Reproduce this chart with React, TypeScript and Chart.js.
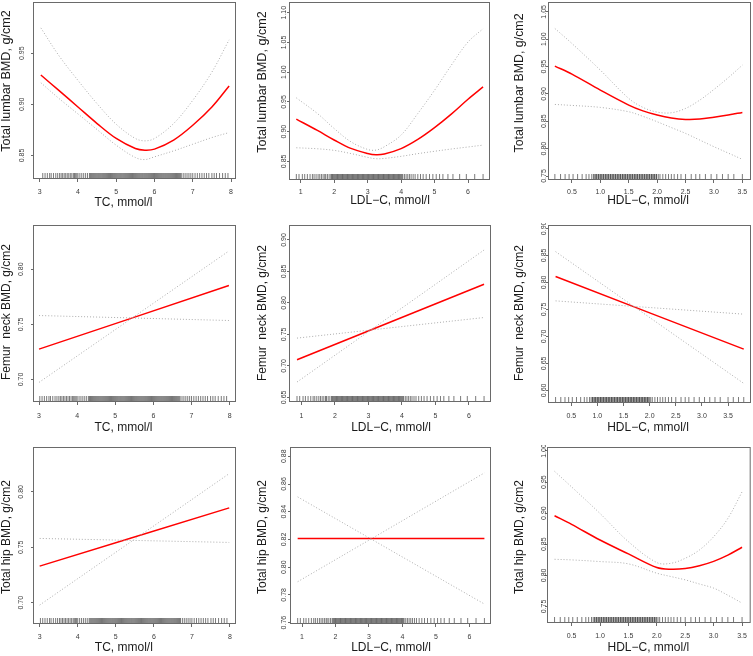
import React, { useEffect, useRef } from "react";
import { Chart, registerables } from "chart.js";
Chart.register(...registerables);

// ---------- axis ticks ----------
const TC_TICKS = [3, 4, 5, 6, 7, 8];
const LDL_TICKS = [1, 2, 3, 4, 5, 6];
const HDL_TICKS = [0.5, 1.0, 1.5, 2.0, 2.5, 3.0, 3.5];

const Y_TICKS_LUMBAR_TC = [0.85, 0.9, 0.95];
const Y_TICKS_LUMBAR_LDL = [0.85, 0.9, 0.95, 1.0, 1.05, 1.1];
const Y_TICKS_LUMBAR_HDL = [0.75, 0.8, 0.85, 0.9, 0.95, 1.0, 1.05];
const Y_TICKS_NECK_TC = [0.7, 0.75, 0.8];
const Y_TICKS_NECK_LDL = [0.65, 0.7, 0.75, 0.8, 0.85, 0.9];
const Y_TICKS_NECK_HDL = [0.6, 0.65, 0.7, 0.75, 0.8, 0.85, 0.9];
const Y_TICKS_HIP_TC = [0.7, 0.75, 0.8];
const Y_TICKS_HIP_LDL = [0.76, 0.78, 0.8, 0.82, 0.84, 0.86, 0.88];
const Y_TICKS_HIP_HDL = [0.75, 0.8, 0.85, 0.9, 0.95, 1.0];

// ---------- rug (observed exposure values) ----------
const TC_RUG = [3.02, 3.08, 3.14, 3.2, 3.26, 3.3, 3.36, 3.42, 3.47, 3.52, 3.56, 3.6, 3.64, 3.68, 3.72, 3.76, 3.8, 3.84, 3.88, 3.91, 3.94, 3.97,
  4.0, 4.05, 4.1, 4.15, 4.2, 4.25, 4.3, 4.35, 4.4, 4.45, 4.5, 4.55, 4.6, 4.65, 4.7, 4.75, 4.8, 4.85, 4.9, 4.95, 5.0, 5.05, 5.1, 5.15, 5.2, 5.25, 5.3, 5.35, 5.4, 5.45,
  5.5, 5.55, 5.6, 5.65, 5.7, 5.75, 5.8, 5.85, 5.9, 5.95, 6.0, 6.05, 6.1, 6.15, 6.2, 6.25, 6.3, 6.35, 6.4, 6.45, 6.5, 6.55, 6.6, 6.65, 6.7, 6.75, 6.8, 6.85, 6.9,
  6.95, 7.0, 7.06, 7.12, 7.18, 7.24, 7.3, 7.36, 7.42, 7.5, 7.56, 7.62, 7.7, 7.78, 7.85, 7.92];
const TC_RUG_DENSE = [4.325, 4.375, 4.425, 4.475, 4.525, 4.575, 4.625, 4.675, 4.725, 4.775, 4.825, 4.875, 4.925, 4.975, 5.025, 5.075, 5.125, 5.175,
  5.225, 5.275, 5.325, 5.375, 5.425, 5.475, 5.525, 5.575, 5.625, 5.675, 5.725, 5.775, 5.825, 5.875, 5.925, 5.975, 6.025, 6.075, 6.125, 6.175,
  6.225, 6.275, 6.325, 6.375, 6.425, 6.475, 6.525, 6.575, 6.625, 6.675];
const LDL_RUG = [0.87, 0.95, 1.05, 1.12, 1.2, 1.28, 1.35, 1.4, 1.46, 1.52, 1.57, 1.62, 1.67, 1.72,
  1.75, 1.8, 1.85, 1.9, 1.95, 2.0, 2.05, 2.1, 2.15, 2.2, 2.25, 2.3, 2.35, 2.4, 2.45, 2.5, 2.55, 2.6, 2.65, 2.7, 2.75, 2.8, 2.85, 2.9, 2.95, 3.0,
  3.05, 3.1, 3.15, 3.2, 3.25, 3.3, 3.35, 3.4, 3.45, 3.5, 3.55, 3.6, 3.65, 3.7, 3.75, 3.8, 3.85, 3.9, 3.95, 4.0, 4.05, 4.1,
  4.15, 4.2, 4.25, 4.3, 4.36, 4.42, 4.5, 4.58, 4.66, 4.75, 4.85, 4.95, 5.05, 5.15, 5.25, 5.4, 5.55, 5.75, 5.95, 6.2, 6.45];
const LDL_RUG_DENSE = [1.925, 1.975, 2.025, 2.075, 2.125, 2.175, 2.225, 2.275, 2.325, 2.375, 2.425, 2.475, 2.525, 2.575, 2.625, 2.675, 2.725,
  2.775, 2.825, 2.875, 2.925, 2.975, 3.025, 3.075, 3.125, 3.175, 3.225, 3.275, 3.325, 3.375, 3.425, 3.475, 3.525, 3.575, 3.625, 3.675, 3.725,
  3.775, 3.825, 3.875, 3.925, 3.975, 4.025];
const HDL_RUG = [0.2, 0.3, 0.38, 0.45, 0.52, 0.6, 0.68, 0.75, 0.8, 0.85,
  0.88, 0.91, 0.94, 0.97, 1.0, 1.03, 1.06, 1.09, 1.12, 1.15, 1.18, 1.21, 1.24, 1.27, 1.3, 1.33, 1.36, 1.39, 1.42, 1.45, 1.48, 1.51, 1.54, 1.57, 1.6,
  1.63, 1.66, 1.69, 1.72, 1.75, 1.78, 1.81, 1.84, 1.87, 1.9, 1.93, 1.96, 1.99, 2.02, 2.05,
  2.1, 2.15, 2.2, 2.25, 2.3, 2.36, 2.42, 2.5, 2.6, 2.68, 2.75, 2.85, 2.95, 3.05, 3.15, 3.25, 3.35, 3.5, 3.6, 3.7, 3.8];
const HDL_RUG_DENSE = [0.905, 0.935, 0.965, 0.995, 1.025, 1.055, 1.085, 1.115, 1.145, 1.175, 1.205, 1.235, 1.265, 1.295, 1.325, 1.355, 1.385,
  1.415, 1.445, 1.475, 1.505, 1.535, 1.565, 1.595, 1.625, 1.655, 1.685, 1.715, 1.745, 1.775, 1.805, 1.835, 1.865, 1.895, 1.925, 1.955, 1.985];

// ---------- row 1: total lumbar BMD ----------
const LUMBAR_TC_X = [3.03, 3.5, 4.0, 4.5, 5.0, 5.5, 5.75, 6.0, 6.5, 7.0, 7.5, 7.95];
const LUMBAR_TC_FIT = [0.9286, 0.9136, 0.8974, 0.8812, 0.8666, 0.8568, 0.8552, 0.8562, 0.865, 0.8795, 0.8974, 0.9179];
const LUMBAR_TC_UPPER = [0.9747, 0.9477, 0.9234, 0.9006, 0.8805, 0.8666, 0.8643, 0.8666, 0.8812, 0.9039, 0.9315, 0.963];
const LUMBAR_TC_LOWER = [0.9211, 0.9058, 0.8906, 0.8753, 0.86, 0.848, 0.846, 0.8487, 0.8545, 0.861, 0.8675, 0.8724];

const LUMBAR_LDL_X = [0.87, 1.5, 2.0, 2.5, 3.0, 3.25, 3.5, 4.0, 4.5, 5.0, 5.5, 6.0, 6.45];
const LUMBAR_LDL_FIT = [0.921, 0.902, 0.886, 0.8718, 0.8634, 0.8612, 0.8625, 0.8715, 0.887, 0.9068, 0.9295, 0.9545, 0.9752];
const LUMBAR_LDL_UPPER = [0.9568, 0.9305, 0.9053, 0.883, 0.8701, 0.869, 0.8746, 0.8942, 0.9305, 0.9696, 1.0116, 1.0507, 1.073];
const LUMBAR_LDL_LOWER = [0.8729, 0.8712, 0.8685, 0.8632, 0.8568, 0.8545, 0.855, 0.8585, 0.863, 0.867, 0.8708, 0.8742, 0.8774];

const LUMBAR_HDL_X = [0.2, 0.5, 1.0, 1.5, 1.75, 2.0, 2.25, 2.5, 2.75, 3.0, 3.25, 3.5];
const LUMBAR_HDL_FIT = [0.9508, 0.9362, 0.907, 0.8796, 0.869, 0.8614, 0.856, 0.8534, 0.854, 0.8575, 0.8615, 0.8662];
const LUMBAR_HDL_UPPER = [1.0196, 0.9922, 0.9435, 0.8918, 0.8754, 0.8668, 0.8656, 0.8735, 0.8887, 0.9082, 0.9295, 0.9526];
const LUMBAR_HDL_LOWER = [0.8808, 0.879, 0.8754, 0.8674, 0.859, 0.8492, 0.8385, 0.8279, 0.8157, 0.8035, 0.792, 0.7804];

// ---------- row 2: femur neck BMD (linear fits, two crossing limit lines) ----------
const NECK_TC_X = [3.0, 7.98];
const NECK_TC_FIT = [0.7275, 0.7852];
const NECK_TC_CI_STEEP = [0.6973, 0.8166];
const NECK_TC_CI_FLAT = [0.758, 0.7535];

const NECK_LDL_X = [0.87, 6.45];
const NECK_LDL_FIT = [0.7097, 0.8297];
const NECK_LDL_CI_STEEP = [0.6743, 0.8841];
const NECK_LDL_CI_FLAT = [0.7441, 0.7768];

const NECK_HDL_X = [0.2, 3.8];
const NECK_HDL_FIT = [0.8107, 0.6764];
const NECK_HDL_CI_STEEP = [0.8569, 0.6129];
const NECK_HDL_CI_FLAT = [0.7657, 0.7411];

// ---------- row 3: total hip BMD ----------
const HIP_TC_X = [3.0, 7.98];
const HIP_TC_FIT = [0.733, 0.7856];
const HIP_TC_CI_STEEP = [0.6979, 0.8165];
const HIP_TC_CI_FLAT = [0.758, 0.7544];

const HIP_LDL_X = [0.87, 6.45];
const HIP_LDL_FIT = [0.8207, 0.8207];
const HIP_LDL_CI_DOWN = [0.8507, 0.7734];
const HIP_LDL_CI_UP = [0.7895, 0.868];

const HIP_HDL_X = [0.2, 0.5, 1.0, 1.5, 2.0, 2.25, 2.5, 2.75, 3.0, 3.25, 3.5];
const HIP_HDL_FIT = [0.8958, 0.8819, 0.8568, 0.8344, 0.8125, 0.8098, 0.811, 0.8155, 0.8225, 0.8325, 0.8451];
const HIP_HDL_UPPER = [0.9673, 0.9422, 0.8995, 0.8541, 0.8205, 0.8194, 0.8274, 0.8408, 0.8621, 0.8915, 0.9342];
const HIP_HDL_LOWER = [0.8258, 0.8248, 0.8221, 0.8184, 0.8034, 0.798, 0.7927, 0.786, 0.7794, 0.768, 0.7553];

// ---------- titles ----------
const X_TITLES = ["TC, mmol/l", "LDL\u2212C, mmol/l", "HDL\u2212C, mmol/l"];
const Y_TITLES = ["Total lumbar BMD, g/cm2", "Femur  neck BMD, g/cm2", "Total hip BMD, g/cm2"];

const FONT = '"Liberation Sans", Arial, Helvetica, sans-serif';

const RUG_TC = [...TC_RUG, ...TC_RUG_DENSE];
const RUG_LDL = [...LDL_RUG, ...LDL_RUG_DENSE];
const RUG_HDL = [...HDL_RUG, ...HDL_RUG_DENSE];

type PanelCfg = {
  col: number;
  box: { l: number; r: number; t: number; b: number };
  xr: [number, number];
  yr: [number, number];
  xTicks: number[];
  xDec: number;
  yTicks: number[];
  x: number[];
  fit: number[];
  upper: number[];
  lower: number[];
  rug: number[];
  xTitle: string;
  yTitle: string;
  yLabelX: number;
  yTitleX: number;
  yTitleY: number;
  yTitleSize: number;
  xTitleX: number;
  xTitleY: number;
  tickPad: number;
};

const PANELS: PanelCfg[] = [
  { col: 0, box: { l: 33, r: 236, t: 2, b: 179 }, xr: [2.825, 8.13], yr: [0.827, 1.0], xTicks: TC_TICKS, xDec: 0, yTicks: Y_TICKS_LUMBAR_TC,
    x: LUMBAR_TC_X, fit: LUMBAR_TC_FIT, upper: LUMBAR_TC_UPPER, lower: LUMBAR_TC_LOWER, rug: RUG_TC, xTitle: X_TITLES[0], yTitle: Y_TITLES[0],
    yLabelX: 22, yTitleX: 7, yTitleY: 81, yTitleSize: 12.6, xTitleX: 123.5, xTitleY: 203, tickPad: 6 },
  { col: 251, box: { l: 289, r: 490, t: 2, b: 180 }, xr: [0.651, 6.657], yr: [0.8187, 1.118], xTicks: LDL_TICKS, xDec: 0, yTicks: Y_TICKS_LUMBAR_LDL,
    x: LUMBAR_LDL_X, fit: LUMBAR_LDL_FIT, upper: LUMBAR_LDL_UPPER, lower: LUMBAR_LDL_LOWER, rug: RUG_LDL, xTitle: X_TITLES[1], yTitle: Y_TITLES[0],
    yLabelX: 284.3, yTitleX: 262.7, yTitleY: 82, yTitleSize: 12.6, xTitleX: 390, xTitleY: 201, tickPad: 5 },
  { col: 502, box: { l: 548, r: 751, t: 2, b: 180 }, xr: [0.079, 3.652], yr: [0.7427, 1.068], xTicks: HDL_TICKS, xDec: 1, yTicks: Y_TICKS_LUMBAR_HDL,
    x: LUMBAR_HDL_X, fit: LUMBAR_HDL_FIT, upper: LUMBAR_HDL_UPPER, lower: LUMBAR_HDL_LOWER, rug: RUG_HDL, xTitle: X_TITLES[2], yTitle: Y_TITLES[0],
    yLabelX: 543.7, yTitleX: 519.3, yTitleY: 83, yTitleSize: 12.4, xTitleX: 648, xTitleY: 201, tickPad: 5 },

  { col: 0, box: { l: 33, r: 236, t: 225, b: 402 }, xr: [2.842, 8.166], yr: [0.6795, 0.8402], xTicks: TC_TICKS, xDec: 0, yTicks: Y_TICKS_NECK_TC,
    x: NECK_TC_X, fit: NECK_TC_FIT, upper: NECK_TC_CI_STEEP, lower: NECK_TC_CI_FLAT, rug: RUG_TC, xTitle: X_TITLES[0], yTitle: Y_TITLES[1],
    yLabelX: 20.7, yTitleX: 6.7, yTitleY: 312, yTitleSize: 12, xTitleX: 123.5, xTitleY: 428, tickPad: 7 },
  { col: 251, box: { l: 289, r: 491, t: 225, b: 402 }, xr: [0.631, 6.657], yr: [0.6426, 0.9238], xTicks: LDL_TICKS, xDec: 0, yTicks: Y_TICKS_NECK_LDL,
    x: NECK_LDL_X, fit: NECK_LDL_FIT, upper: NECK_LDL_CI_STEEP, lower: NECK_LDL_CI_FLAT, rug: RUG_LDL, xTitle: X_TITLES[1], yTitle: Y_TITLES[1],
    yLabelX: 284.3, yTitleX: 262.7, yTitleY: 313, yTitleSize: 12, xTitleX: 391, xTitleY: 428, tickPad: 7 },
  { col: 502, box: { l: 548, r: 751, t: 225, b: 403 }, xr: [0.055, 3.939], yr: [0.5766, 0.9062], xTicks: HDL_TICKS, xDec: 1, yTicks: Y_TICKS_NECK_HDL,
    x: NECK_HDL_X, fit: NECK_HDL_FIT, upper: NECK_HDL_CI_STEEP, lower: NECK_HDL_CI_FLAT, rug: RUG_HDL, xTitle: X_TITLES[2], yTitle: Y_TITLES[1],
    yLabelX: 543.7, yTitleX: 519.3, yTitleY: 313, yTitleSize: 12, xTitleX: 648, xTitleY: 428, tickPad: 6 },

  { col: 0, box: { l: 33, r: 236, t: 447, b: 624 }, xr: [2.825, 8.158], yr: [0.6808, 0.8405], xTicks: TC_TICKS, xDec: 0, yTicks: Y_TICKS_HIP_TC,
    x: HIP_TC_X, fit: HIP_TC_FIT, upper: HIP_TC_CI_STEEP, lower: HIP_TC_CI_FLAT, rug: RUG_TC, xTitle: X_TITLES[0], yTitle: Y_TITLES[2],
    yLabelX: 20.7, yTitleX: 6.7, yTitleY: 537, yTitleSize: 12, xTitleX: 123.8, xTitleY: 648, tickPad: 6 },
  { col: 251, box: { l: 290, r: 491, t: 447, b: 624 }, xr: [0.641, 6.647], yr: [0.759, 0.8867], xTicks: LDL_TICKS, xDec: 0, yTicks: Y_TICKS_HIP_LDL,
    x: HIP_LDL_X, fit: HIP_LDL_FIT, upper: HIP_LDL_CI_DOWN, lower: HIP_LDL_CI_UP, rug: RUG_LDL, xTitle: X_TITLES[1], yTitle: Y_TITLES[2],
    yLabelX: 284.3, yTitleX: 262.7, yTitleY: 537, yTitleSize: 12, xTitleX: 391, xTitleY: 648, tickPad: 6 },
  { col: 502, box: { l: 547, r: 751, t: 447, b: 623 }, xr: [0.067, 3.652], yr: [0.7233, 1.0064], xTicks: HDL_TICKS, xDec: 1, yTicks: Y_TICKS_HIP_HDL,
    x: HIP_HDL_X, fit: HIP_HDL_FIT, upper: HIP_HDL_UPPER, lower: HIP_HDL_LOWER, rug: RUG_HDL, xTitle: X_TITLES[2], yTitle: Y_TITLES[2],
    yLabelX: 543.7, yTitleX: 519.3, yTitleY: 537, yTitleSize: 12, xTitleX: 648.3, xTitleY: 648, tickPad: 6 },
];

const BOTTOM_H = 36;
const TOP_PAD = 2;

function Panel({ p }: { p: PanelCfg }) {
  const ref = useRef<HTMLCanvasElement | null>(null);
  const cl = p.col;
  const ct = p.box.t - TOP_PAD;
  const cw = 251;
  const ch = p.box.b - ct + BOTTOM_H;

  useEffect(() => {
    const canvas = ref.current;
    if (!canvas) return;
    const xMinData = p.x[0] - 0.001;
    const xMaxData = p.x[p.x.length - 1] + 0.001;
    const rug = p.rug.filter((v) => v >= xMinData && v <= xMaxData);

    const decor = {
      id: "decor" + cl + "_" + ct,
      beforeDatasetsDraw(chart: any) {
        const { ctx, chartArea } = chart;
        const xs = chart.scales.x;
        ctx.save();
        ctx.strokeStyle = "rgba(40,40,40,0.62)";
        ctx.lineWidth = 1;
        for (const v of rug) {
          const px = xs.getPixelForValue(v);
          ctx.beginPath();
          ctx.moveTo(px, chartArea.bottom);
          ctx.lineTo(px, chartArea.bottom - 6);
          ctx.stroke();
        }
        ctx.restore();
      },
      afterDraw(chart: any) {
        const { ctx, chartArea } = chart;
        const ys = chart.scales.y;
        ctx.save();
        // plot box
        ctx.strokeStyle = "#6a6a6a";
        ctx.lineWidth = 1;
        ctx.strokeRect(chartArea.left + 0.5, chartArea.top + 0.5, chartArea.right - chartArea.left - 1, chartArea.bottom - chartArea.top - 1);
        // y tick labels (rotated)
        ctx.fillStyle = "#3a3a3a";
        ctx.font = `7px ${FONT}`;
        ctx.textAlign = "center";
        ctx.textBaseline = "middle";
        for (const v of p.yTicks) {
          const py = ys.getPixelForValue(v);
          ctx.save();
          ctx.translate(p.yLabelX - cl, py);
          ctx.rotate(-Math.PI / 2);
          ctx.fillText(v.toFixed(2), 0, 0);
          ctx.restore();
        }
        // y title
        ctx.fillStyle = "#1a1a1a";
        ctx.font = `${p.yTitleSize}px ${FONT}`;
        ctx.save();
        ctx.translate(p.yTitleX - cl, p.yTitleY - ct);
        ctx.rotate(-Math.PI / 2);
        ctx.fillText(p.yTitle, 0, 0);
        ctx.restore();
        // x title
        ctx.font = `12px ${FONT}`;
        ctx.fillText(p.xTitle, p.xTitleX - cl, p.xTitleY - ct);
        ctx.restore();
      },
    };

    const pts = (ys: number[]) => p.x.map((x, i) => ({ x, y: ys[i] }));
    const ciStyle = {
      showLine: true,
      borderColor: "#ababab",
      borderWidth: 1,
      borderDash: [1, 2],
      pointRadius: 0,
      tension: 0.35,
      fill: false,
    };

    const chart = new Chart(canvas, {
      type: "scatter",
      data: {
        datasets: [
          { ...ciStyle, data: pts(p.upper) },
          { ...ciStyle, data: pts(p.lower) },
          { showLine: true, borderColor: "#ff0000", borderWidth: 1.5, pointRadius: 0, tension: 0.35, fill: false, data: pts(p.fit) },
        ],
      } as any,
      options: {
        responsive: false,
        maintainAspectRatio: false,
        animation: false,
        devicePixelRatio: 1,
        events: [],
        layout: { padding: { left: 0, top: TOP_PAD, right: cl + cw - p.box.r, bottom: 0 } },
        plugins: { legend: { display: false }, tooltip: { enabled: false }, title: { display: false } },
        scales: {
          x: {
            type: "linear",
            position: "bottom",
            min: p.xr[0],
            max: p.xr[1],
            afterBuildTicks: (s: any) => {
              s.ticks = p.xTicks.map((v) => ({ value: v }));
            },
            afterFit: (s: any) => {
              s.height = BOTTOM_H;
            },
            border: { display: false },
            grid: { display: true, drawOnChartArea: false, drawTicks: true, tickLength: 3, color: "#6a6a6a", lineWidth: 1 },
            ticks: {
              autoSkip: false,
              maxRotation: 0,
              minRotation: 0,
              padding: p.tickPad,
              color: "#3a3a3a",
              font: { family: FONT, size: 7 },
              callback: (v: any) => Number(v).toFixed(p.xDec),
            },
          },
          y: {
            type: "linear",
            position: "left",
            min: p.yr[0],
            max: p.yr[1],
            afterBuildTicks: (s: any) => {
              s.ticks = p.yTicks.map((v) => ({ value: v }));
            },
            afterFit: (s: any) => {
              s.width = p.box.l - cl;
            },
            border: { display: false },
            grid: { display: true, drawOnChartArea: false, drawTicks: true, tickLength: 2, color: "#6a6a6a", lineWidth: 1 },
            ticks: { display: false, autoSkip: false },
          },
        },
      } as any,
      plugins: [decor as any],
    });
    return () => chart.destroy();
  }, []);

  return (
    <canvas
      ref={ref}
      width={cw}
      height={ch}
      style={{ position: "absolute", left: cl, top: ct, width: cw, height: ch }}
    />
  );
}

export default function App() {
  return (
    <div style={{ position: "absolute", left: 0, top: 0, width: 753, height: 656, background: "#ffffff", overflow: "hidden" }}>
      {PANELS.map((p, i) => (
        <Panel key={i} p={p} />
      ))}
    </div>
  );
}
